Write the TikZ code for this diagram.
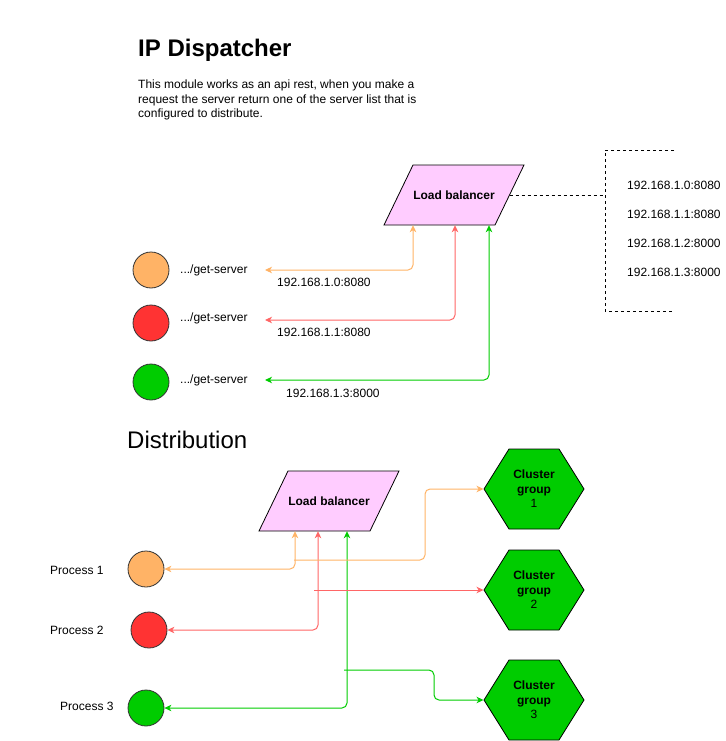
\documentclass[tikz,border=0pt]{standalone}
\usepackage{fontspec}
\setmainfont{Liberation Sans}
\usetikzlibrary{shapes.symbols,arrows.meta}
\definecolor{lbpink}{HTML}{FFCCFF}
\definecolor{orng}{HTML}{FFB366}
\definecolor{redc}{HTML}{FF3333}
\definecolor{redl}{HTML}{FF6666}
\definecolor{grn}{HTML}{00CC00}
\begin{document}
\begin{tikzpicture}[x=1pt, y=-1pt,
    every node/.style={font=\fontsize{12}{14.4}\selectfont, inner sep=0pt},
    lbshape/.style={draw, fill=lbpink, line width=0.8pt},
    lbox/.style={minimum width=111pt, minimum height=60pt, font=\fontsize{12}{14.4}\selectfont\bfseries},
    hexa/.style={draw, line width=0.8pt, fill=grn, signal, signal to=west and east, signal pointer angle=116,
        minimum width=100pt, minimum height=80pt, align=center},
    proc/.style={circle, draw=black!80, line width=0.8pt, minimum size=36pt},
    dashline/.style={line width=0.8pt, dash pattern=on 3pt off 3pt},
    link/.style={line width=1pt, rounded corners=5pt, {Stealth[length=7pt,width=6.5pt,inset=2pt]}-{Stealth[length=7pt,width=6.5pt,inset=2pt]}},
    feed/.style={line width=1pt, rounded corners=5pt, -{Stealth[length=7pt,width=6.5pt,inset=2pt]}},
    bigtitle/.style={anchor=west, font=\fontsize{24}{29}\selectfont}
]
    \useasboundingbox (0,0) rectangle (725,741);

    % header
    \node[bigtitle, font=\fontsize{24}{29}\selectfont\bfseries] (title) at (138,50) {IP Dispatcher};
    \node[anchor=north west, align=left] (desc) at (138,80) {This module works as an api rest, when you make a\\
        request the server return one of the server list that is\\configured to distribute.};

    % dispatcher
    \draw[lbshape, shift={(454,195)}] (-70,30) -- (-41,-30) -- (70,-30) -- (41,30) -- cycle;
    \node[lbox] (lb) at (454,195) {Load balancer};
    \draw[dashline] (674,150) -- (605,150) -- (605,311) -- (674,311);
    \coordinate (list) at (605,195);
    \draw[dashline] (lb.east) -- (list);
    \foreach \i/\ip/\y in {0/192.168.1.0:8080/185, 1/192.168.1.1:8080/214, 2/192.168.1.2:8000/243, 3/192.168.1.3:8000/272}
        \node[anchor=west] (ip\i) at (627,\y) {\ip};

    \node[proc, fill=orng] (c1) at (151,270) {};
    \node[proc, fill=redc] (c2) at (151,323) {};
    \node[proc, fill=grn] (c3) at (151,382) {};
    \node[anchor=west] (gs1) at (180,270) {.../get-server};
    \node[anchor=west] (gs2) at (180,318) {.../get-server};
    \node[anchor=west] (gs3) at (180,380) {.../get-server};
    \coordinate (e1) at (265,270);
    \coordinate (e2) at (265,320);
    \coordinate (e3) at (265,380);

    \draw[link, orng] (e1) -| ([xshift=-41pt]lb.south);
    \draw[link, redl] (e2) -| ([xshift=1pt]lb.south);
    \draw[link, grn] (e3) -| ([xshift=35pt]lb.south);
    \node[anchor=west] (r1) at (277,282) {192.168.1.0:8080};
    \node[anchor=west] (r2) at (277,332) {192.168.1.1:8080};
    \node[anchor=west] (r3) at (286,393) {192.168.1.3:8000};

    % distribution
    \node[bigtitle] (dist) at (127,440) {Distribution};
    \draw[lbshape, shift={(329,501)}] (-70,30) -- (-41,-30) -- (70,-30) -- (41,30) -- cycle;
    \node[lbox] (lb2) at (329,501) {Load balancer};
    \node[hexa] (g1) at (534,489) {\textbf{Cluster}\\\textbf{group}\\1};
    \node[hexa] (g2) at (534,590) {\textbf{Cluster}\\\textbf{group}\\2};
    \node[hexa] (g3) at (534,700) {\textbf{Cluster}\\\textbf{group}\\3};

    \node[proc, fill=orng] (p1) at (146,569) {};
    \node[proc, fill=redc] (p2) at (149,630) {};
    \node[proc, fill=grn] (p3) at (146,708) {};
    \node[anchor=west] (pl1) at (50,570) {Process 1};
    \node[anchor=west] (pl2) at (50,630) {Process 2};
    \node[anchor=west] (pl3) at (60,706) {Process 3};

    \draw[link, orng] ([xshift=-34pt]lb2.south) |- (p1.east);
    \draw[link, redl] ([xshift=-11pt]lb2.south) |- (p2.east);
    \draw[link, grn] ([xshift=18pt]lb2.south) |- (p3.east);

    \coordinate (s1) at (294,560);
    \coordinate (s2) at (314,590);
    \coordinate (s3) at (344,670);
    \draw[feed, orng] (s1) -- (425,560) -- (425,489) -- (g1.west);
    \draw[feed, redl] (s2) -- (g2.west);
    \draw[feed, grn] (s3) -- (434,670) -- (434,700) -- (g3.west);
\end{tikzpicture}
\end{document}
